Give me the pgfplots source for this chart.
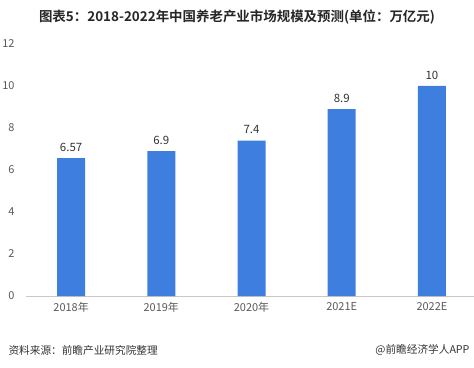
\documentclass[border=0pt]{standalone}
\usepackage{pgfplots}
\pgfplotsset{compat=1.18}
\usepackage{fontspec}
\setmainfont{Open Sans}
\newfontfamily\cjk{Noto Sans CJK SC}
\newfontfamily\cjkb{Noto Sans CJK SC Bold}
\definecolor{barblue}{RGB}{61,126,222}
\definecolor{txtgray}{RGB}{89,89,89}
\definecolor{axgray}{RGB}{200,200,200}
\begin{document}
\begin{tikzpicture}[x=1bp,y=1bp]
\path[use as bounding box] (0,0) rectangle (474,367);
\begin{axis}[
  at={(26bp,71bp)}, anchor=south west,
  scale only axis, width=451bp, height=252bp,
  xmin=-0.5, xmax=4.5, ymin=0, ymax=12,
  xtick=data, xticklabels={{\cjk 2018年},{\cjk 2019年},{\cjk 2020年},{2021E},{2022E}},
  ytick={0,2,4,6,8,10,12},
  axis y line=none,
  axis x line*=bottom,
  x axis line style={draw=axgray},
  xtick style={draw=none},
  ytick style={draw=none},
  ymajorgrids=false,
  tick label style={font=\fontsize{11}{13}\selectfont\cjk, text=txtgray},
  /pgf/number format/assume math mode=true,
  xticklabel style={yshift=-3bp},
  clip=false,
  nodes near coords,
  nodes near coords style={font=\fontsize{11.5}{13}\selectfont\cjk, text=black!80, yshift=3bp},
  point meta=explicit symbolic,
]
\addplot[ybar, bar width=28bp, fill=barblue, draw=none] coordinates {
  (0,6.57) [6.57] (1,6.9) [6.9] (2,7.4) [7.4] (3,8.9) [8.9] (4,10) [10]
};
\end{axis}
\foreach \v/\yy in {0/296,2/254,4/212,6/170,8/128,10/86,12/44}{
  \node[anchor=east, font=\fontsize{11}{13}\selectfont\cjk, text=txtgray] at (18,367-\yy) {\v};
}
\node[font=\fontsize{13.5}{15}\selectfont\cjkb, text=black!85] at (237,350) {图表5：2018-2022年中国养老产业市场规模及预测(单位：万亿元)};
\node[anchor=west, font=\fontsize{10.7}{12}\selectfont\cjk, text=black!80] at (5,17) {资料来源：前瞻产业研究院整理};
\node[anchor=east, font=\fontsize{10.7}{12}\selectfont\cjk, text=black!80] at (473,17) {@前瞻经济学人APP};
\end{tikzpicture}
\end{document}
